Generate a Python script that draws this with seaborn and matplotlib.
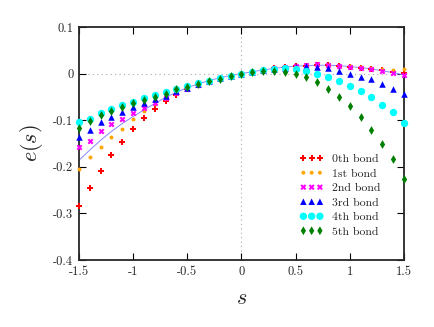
import pandas as pd
import seaborn as sns
import matplotlib.pyplot as plt

s = [-1.5, -1.4, -1.3, -1.2, -1.1, -1.0, -0.9, -0.8, -0.7, -0.6, -0.5,
     -0.4, -0.3, -0.2, -0.1, 0.0, 0.1, 0.2, 0.3, 0.4, 0.5,
     0.6, 0.7, 0.8, 0.9, 1.0, 1.1, 1.2, 1.3, 1.4, 1.5]

theory = [-0.186, -0.164, -0.143, -0.124, -0.107, -0.092, -0.078, -0.064, -0.051, -0.040, -0.030,
          -0.022, -0.015, -0.009, -0.004, 0.000, 0.004, 0.008, 0.011, 0.014, 0.016,
          0.017, 0.018, 0.018, 0.017, 0.015, 0.013, 0.010, 0.006, 0.002, -0.003]

bond0 = [-0.285, -0.245, -0.208, -0.174, -0.146, -0.119, -0.096, -0.077, -0.059, -0.046, -0.034,
         -0.025, -0.017, -0.010, -0.005, 0.000, 0.004, 0.008, 0.011, 0.014, 0.016,
         0.017, 0.018, 0.018, 0.017, 0.015, 0.013, 0.010, 0.007, 0.004, 0.001]
bond1 = [-0.204, -0.180, -0.158, -0.137, -0.119, -0.098, -0.080, -0.065, -0.052, -0.041, -0.031,
         -0.023, -0.015, -0.009, -0.004, 0.000, 0.004, 0.008, 0.011, 0.014, 0.016,
         0.017, 0.018, 0.018, 0.017, 0.016, 0.014, 0.012, 0.009, 0.007, 0.009]
bond2 = [-0.157, -0.144, -0.124, -0.109, -0.097, -0.085, -0.073, -0.063, -0.052, -0.042, -0.033,
         -0.024, -0.017, -0.010, -0.005, 0.000, 0.004, 0.008, 0.011, 0.014, 0.017,
         0.018, 0.020, 0.018, 0.017, 0.015, 0.012, 0.009, 0.006, 0.001, -0.002]
bond3 = [-0.135, -0.121, -0.104, -0.093, -0.082, -0.072, -0.063, -0.055, -0.047, -0.038, -0.031,
         -0.023, -0.016, -0.010, -0.005, 0.000, 0.004, 0.007, 0.010, 0.013, 0.015,
         0.016, 0.015, 0.011, 0.006, -0.001, -0.008, -0.012, -0.022, -0.033, -0.043]
bond4 = [-0.104, -0.097, -0.085, -0.076, -0.067, -0.060, -0.053, -0.046, -0.040, -0.033, -0.027,
         -0.021, -0.015, -0.010, -0.005, 0.000, 0.004, 0.007, 0.010, 0.012, 0.010,
         0.005, 0.000, -0.007, -0.015, -0.026, -0.038, -0.051, -0.067, -0.083, -0.105]
bond5 = [-0.117, -0.102, -0.088, -0.080, -0.072, -0.064, -0.057, -0.050, -0.043, -0.034, -0.029,
         -0.022, -0.016, -0.011, -0.006, 0.000, 0.004, 0.006, 0.006, 0.004, 0.000,
         -0.008, -0.019, -0.034, -0.050, -0.070, -0.093, -0.120, -0.151, -0.184, -0.227]

labels = ['0th bond', '1st bond', '2nd bond', '3rd bond', '4th bond', '5th bond']
series = [bond0, bond1, bond2, bond3, bond4, bond5]
colors = ['#ff0000', '#ffa500', '#ff00ff', '#0000ff', '#00ffff', '#008000']
markers = ['P', 'o', 'X', '^', 'o', 'd']
sizes = [20, 8, 18, 22, 28, 20]

sns.set_style("ticks")
plt.rcParams['font.family'] = ['cmr10', 'DejaVu Serif']
plt.rcParams['mathtext.fontset'] = 'cm'
plt.rcParams['axes.unicode_minus'] = False
plt.rcParams['axes.formatter.use_mathtext'] = False

fig = plt.figure(figsize=(4.35, 3.27), dpi=100)
ax = fig.add_axes([0.1816, 0.2049, 0.7471, 0.7125])

ax.axhline(0, color='#aaaaaa', lw=0.8, ls=(0, (1, 3)), zorder=0)
ax.axvline(0, color='#aaaaaa', lw=0.8, ls=(0, (1, 3)), zorder=0)

sns.lineplot(x=s, y=theory, color='#8888ff', lw=0.7, ax=ax, zorder=1, errorbar=None)

handles = []
for lab, vals, c, m, sz in zip(labels, series, colors, markers, sizes):
    df = pd.DataFrame({'s': s, 'e': vals})
    sns.scatterplot(data=df, x='s', y='e', color=c, marker=m, s=sz, linewidth=0,
                    ax=ax, zorder=3, clip_on=False, legend=False)
    handles.append(ax.collections[-1])

ax.set_xlim(-1.5, 1.5)
ax.set_ylim(-0.4, 0.1)
ax.set_xticks([-1.5, -1, -0.5, 0, 0.5, 1, 1.5])
ax.set_xticklabels(['-1.5', '-1', '-0.5', '0', '0.5', '1', '1.5'])
ax.set_yticks([0.1, 0, -0.1, -0.2, -0.3, -0.4])
ax.set_yticklabels(['0.1', '0', '-0.1', '-0.2', '-0.3', '-0.4'])
ax.tick_params(direction='in', top=True, right=True, length=5, width=0.8,
               labelsize=9, pad=4, color='black')
for sp in ax.spines.values():
    sp.set_linewidth(1.3)

ax.set_xlabel('$s$', fontsize=16, labelpad=8)
ax.set_ylabel('$e(s)$', fontsize=16, labelpad=6)

legend = ax.legend(handles=handles, labels=labels, loc='upper left',
                   bbox_to_anchor=(0.665, 0.475), frameon=False, scatterpoints=3,
                   scatteryoffsets=[0.5], fontsize=8.5, handlelength=2.0,
                   handletextpad=0.7, labelspacing=0.36, borderaxespad=0)

plt.savefig('out.png', dpi=100)
